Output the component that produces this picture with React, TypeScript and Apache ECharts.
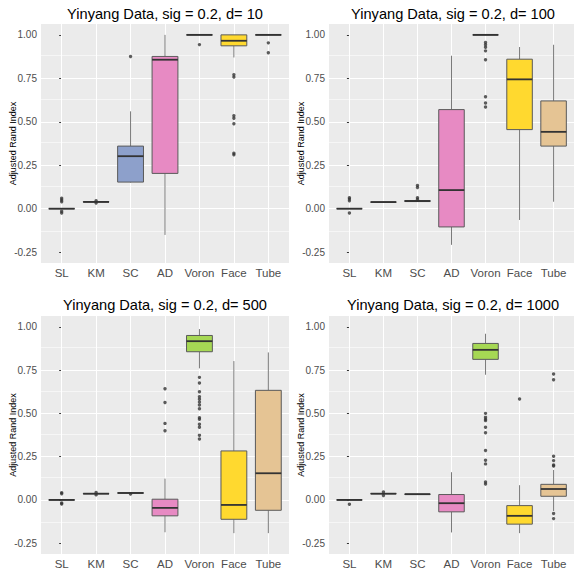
import React, { useEffect, useRef } from "react";
import * as echarts from "echarts";

const categories = ["SL", "KM", "SC", "AD", "Voron", "Face", "Tube"];
const boxColors = ["#66C2A5", "#FC8D62", "#8DA0CB", "#E78AC3", "#A6D854", "#FFD92F", "#E5C494"];
const panelTitles = [
  "Yinyang Data, sig = 0.2, d= 10",
  "Yinyang Data, sig = 0.2, d= 100",
  "Yinyang Data, sig = 0.2, d= 500",
  "Yinyang Data, sig = 0.2, d= 1000",
];
const yTicks = [-0.25, 0, 0.25, 0.5, 0.75, 1.0];
const yMinorTicks = [-0.125, 0.125, 0.375, 0.625, 0.875];
const xTicks = [0, 1, 2, 3, 4, 5, 6];

// [min, Q1, median, Q3, max] per category
const d10Stats = [
  [0, 0, 0, 0, 0],
  [0.037, 0.038, 0.039, 0.04, 0.041],
  [0.15, 0.153, 0.302, 0.36, 0.56],
  [-0.151, 0.203, 0.857, 0.876, 1.0],
  [1, 1, 1, 1, 1],
  [0.87, 0.937, 0.966, 1.0, 1.0],
  [1, 1, 1, 1, 1],
];
const d10Outliers = [
  [0.06, 0.05, 0.04, -0.015, -0.025],
  [0.046, 0.033],
  [0.876],
  [],
  [0.944],
  [0.77, 0.757, 0.535, 0.52, 0.489, 0.319, 0.31],
  [0.954, 0.897],
];

const d100Stats = [
  [0, 0, 0, 0, 0],
  [0.036, 0.037, 0.038, 0.039, 0.04],
  [0.04, 0.041, 0.044, 0.047, 0.05],
  [-0.208, -0.105, 0.107, 0.57, 0.88],
  [1, 1, 1, 1, 1],
  [-0.065, 0.455, 0.744, 0.86, 0.93],
  [0.04, 0.36, 0.442, 0.62, 0.943],
];
const d100Outliers = [
  [0.063, 0.055, 0.045, -0.025],
  [],
  [0.134, 0.122, 0.063, 0.053],
  [],
  [0.956, 0.943, 0.929, 0.908, 0.857, 0.644, 0.608, 0.585],
  [],
  [],
];

const d500Stats = [
  [0, 0, 0, 0, 0],
  [0.034, 0.035, 0.036, 0.037, 0.038],
  [0.038, 0.039, 0.04, 0.041, 0.042],
  [-0.187, -0.092, -0.046, 0.004, 0.123],
  [0.76, 0.856, 0.917, 0.95, 0.987],
  [-0.192, -0.112, -0.029, 0.283, 0.802],
  [-0.192, -0.06, 0.154, 0.633, 0.852],
];
const d500Outliers = [
  [0.042, 0.036, -0.018, -0.024],
  [0.043, 0.029],
  [0.034],
  [0.642, 0.563, 0.442, 0.4],
  [0.708, 0.675, 0.625, 0.596, 0.581, 0.565, 0.548, 0.527, 0.475, 0.466, 0.437, 0.42, 0.373, 0.352],
  [],
  [],
];

const d1000Stats = [
  [0, 0, 0, 0, 0],
  [0.034, 0.035, 0.036, 0.037, 0.038],
  [0.031, 0.032, 0.033, 0.034, 0.035],
  [-0.188, -0.069, -0.019, 0.031, 0.16],
  [0.723, 0.812, 0.867, 0.904, 0.96],
  [-0.192, -0.14, -0.092, -0.033, 0.085],
  [-0.064, 0.021, 0.063, 0.09, 0.173],
];
const d1000Outliers = [
  [-0.025],
  [0.046, 0.025],
  [],
  [],
  [0.5, 0.477, 0.466, 0.458, 0.42, 0.388, 0.285, 0.229, 0.208, 0.104, 0.092],
  [0.583],
  [0.727, 0.694, 0.252, 0.227, 0.202, 0.196, -0.079, -0.108],
];

const allStats = [d10Stats, d100Stats, d500Stats, d1000Stats];
const allOutliers = [d10Outliers, d100Outliers, d500Outliers, d1000Outliers];

const FONT = "'Liberation Sans', Arial, sans-serif";
const gridLayout = [
  { left: 41, top: 24, width: 248, height: 239 },
  { left: 329, top: 24, width: 248, height: 239 },
  { left: 41, top: 316, width: 248, height: 238 },
  { left: 329, top: 316, width: 248, height: 238 },
];
const titlePos = [
  { left: 165, top: 6 },
  { left: 453, top: 6 },
  { left: 165, top: 297 },
  { left: 453, top: 297 },
];

function renderBox(params: any, api: any) {
  const x = api.value(0);
  const mn = api.value(1);
  const q1 = api.value(2);
  const md = api.value(3);
  const q3 = api.value(4);
  const mx = api.value(5);
  const pMin = api.coord([x, mn]);
  const pQ1 = api.coord([x, q1]);
  const pMd = api.coord([x, md]);
  const pQ3 = api.coord([x, q3]);
  const pMax = api.coord([x, mx]);
  const hw = api.size([0.75, 0])[0] / 2;
  const cx = pMd[0];
  const color = boxColors[params.dataIndex];
  return {
    type: "group",
    children: [
      {
        type: "line",
        shape: { x1: cx, y1: pMax[1], x2: cx, y2: pQ3[1] },
        style: { stroke: "#7a7a7a", lineWidth: 1 },
      },
      {
        type: "line",
        shape: { x1: cx, y1: pQ1[1], x2: cx, y2: pMin[1] },
        style: { stroke: "#7a7a7a", lineWidth: 1 },
      },
      {
        type: "rect",
        shape: { x: cx - hw, y: pQ3[1], width: hw * 2, height: pQ1[1] - pQ3[1] },
        style: { fill: color, stroke: "#5a5a5a", lineWidth: 1 },
      },
      {
        type: "line",
        shape: { x1: cx - hw, y1: pMd[1], x2: cx + hw, y2: pMd[1] },
        style: { stroke: "#333333", lineWidth: 1.8 },
      },
    ],
  };
}

export default function App() {
  const ref = useRef<HTMLDivElement>(null);
  useEffect(() => {
    if (!ref.current) return;
    const chart = echarts.init(ref.current, undefined, { renderer: "svg" });
    const grids: any[] = [];
    const xAxes: any[] = [];
    const yAxes: any[] = [];
    const series: any[] = [];
    const titles: any[] = [];
    for (let p = 0; p < 4; p++) {
      grids.push({
        ...gridLayout[p],
        show: true,
        backgroundColor: "#EBEBEB",
        borderWidth: 0,
        containLabel: false,
      });
      titles.push({
        text: panelTitles[p],
        left: titlePos[p].left,
        top: titlePos[p].top,
        textAlign: "center",
        padding: 0,
        textStyle: { fontFamily: FONT, fontSize: 14.6, fontWeight: "normal", color: "#000" },
      });
      xAxes.push({
        type: "value",
        gridIndex: p,
        min: -0.6,
        max: 6.6,
        axisLine: { show: false },
        axisTick: { show: true, customValues: xTicks, length: 2.5, lineStyle: { color: "#333", width: 1 } },
        axisLabel: {
          customValues: xTicks,
          formatter: (v: number) => categories[Math.round(v)] ?? "",
          fontFamily: FONT,
          fontSize: 11.5,
          color: "#4d4d4d",
          margin: 4,
        },
        splitLine: { show: false },
      });
      yAxes.push({
        type: "value",
        gridIndex: p,
        min: -0.3125,
        max: 1.0625,
        minInterval: 0.25,
        maxInterval: 0.25,
        name: "Adjusted Rand Index",
        nameLocation: "middle",
        nameGap: 24,
        nameMoveOverlap: false,
        nameTextStyle: { fontFamily: FONT, fontSize: 9, color: "#000" },
        axisLine: { show: false },
        axisTick: { show: true, customValues: yTicks, length: 2.5, lineStyle: { color: "#333", width: 1 } },
        axisLabel: {
          customValues: yTicks,
          formatter: (v: number) => v.toFixed(2),
          fontFamily: FONT,
          fontSize: 10,
          color: "#4d4d4d",
          margin: 4,
        },
        splitLine: { show: true, showMinLine: false, showMaxLine: false, lineStyle: { color: "#ffffff", width: 1.1 } },
      });
      const boxData = allStats[p].map((s, i) => [i, ...s]);
      const outData: number[][] = [];
      allOutliers[p].forEach((arr, i) => arr.forEach((v) => outData.push([i, v])));
      series.push({
        type: "custom",
        xAxisIndex: p,
        yAxisIndex: p,
        renderItem: renderBox,
        encode: { x: 0, y: [1, 2, 3, 4, 5] },
        data: boxData,
        z: 2,
        silent: true,
      });
      series.push({
        type: "scatter",
        xAxisIndex: p,
        yAxisIndex: p,
        data: outData,
        symbol: "circle",
        symbolSize: 3.4,
        itemStyle: { color: "#333333" },
        z: 3,
        silent: true,
        markLine: {
          silent: true,
          symbol: "none",
          z: 1,
          label: { show: false },
          lineStyle: { color: "#ffffff", type: "solid" },
          data: [
            ...xTicks.map((v) => ({ xAxis: v, lineStyle: { color: "#ffffff", width: 1.1, type: "solid" } })),
            ...yMinorTicks.map((v) => ({ yAxis: v, lineStyle: { color: "#ffffff", width: 0.55, type: "solid" } })),
          ],
        },
      });
    }
    chart.setOption({
      animation: false,
      backgroundColor: "#ffffff",
      title: titles,
      grid: grids,
      xAxis: xAxes,
      yAxis: yAxes,
      series,
    });
    return () => chart.dispose();
  }, []);
  return (
    <div
      ref={ref}
      style={{ position: "absolute", left: 0, top: 0, width: 574, height: 570 }}
    />
  );
}
